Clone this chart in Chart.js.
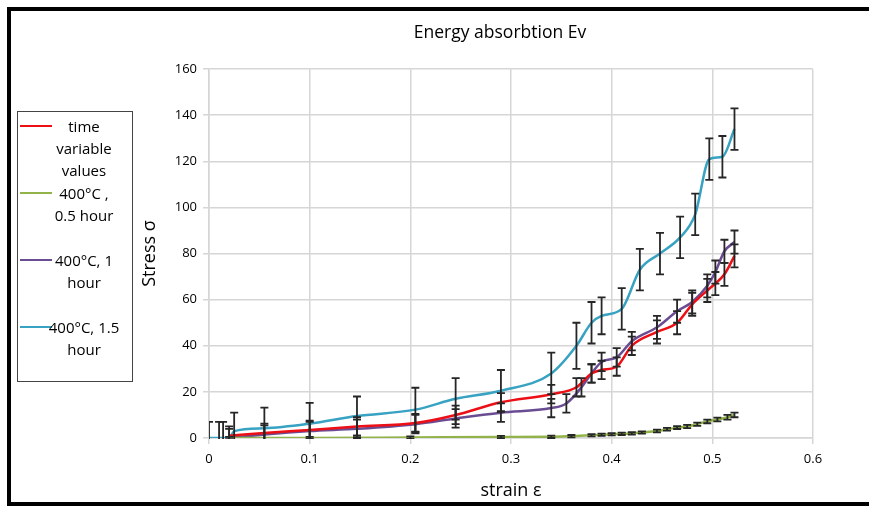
<!DOCTYPE html>
<html>
<head>
<meta charset="utf-8">
<script src="https://cdn.jsdelivr.net/npm/chart.js@4/dist/chart.umd.min.js"></script>
<style>
  html, body { margin: 0; padding: 0; background: #fff; }
  #wrap { position: relative; width: 869px; height: 507px; overflow: hidden; background: #fff; }
  #frame { position: absolute; left: 7px; top: 7px; width: 880px; height: 491px; border: 4px solid #000; box-sizing: content-box; }
  #c { position: absolute; left: 0; top: 0; }
  #legend { position: absolute; left: 17px; top: 111px; width: 116px; height: 271px; border: 1px solid #444;
            font-family: "Open Sans", sans-serif; font-size: 15px; color: #000; box-sizing: border-box; padding-top: 3px; }
  .entry { position: relative; height: 67px; }
  .entry .ln { position: absolute; left: 2px; top: 10px; width: 32px; height: 0; border-top: 2.5px solid; }
  .entry .tx { position: absolute; left: 26px; width: 80px; text-align: center; line-height: 22px; white-space: pre-line; }
</style>
</head>
<body>
<div id="wrap">
  <div id="frame"></div>
  <canvas id="c" width="869" height="507"></canvas>
  <div id="legend"></div>
</div>
<script>
// ---- data ----
const seriesNames = ["time\nvariable\nvalues", "400°C ,\n0.5 hour", "400°C, 1\nhour", "400°C, 1.5\nhour"];

const redX   = [0.02, 0.055, 0.1, 0.147, 0.205, 0.245, 0.29, 0.34, 0.365, 0.38, 0.39, 0.405, 0.42, 0.445, 0.465, 0.48, 0.495, 0.503, 0.512, 0.522];
const redY   = [1, 2.2, 3.5, 5, 6.5, 10, 15.5, 19, 22, 28, 29.5, 31, 40, 46, 50, 58, 64, 67, 71, 79];
const redErr = [4, 4, 4, 4, 4, 4, 4, 4, 4, 4, 4, 4, 4, 5, 5, 5, 5, 5, 5, 5];

const greenX   = [0.02, 0.1, 0.2, 0.29, 0.34, 0.36, 0.38, 0.39, 0.40, 0.41, 0.42, 0.43, 0.445, 0.455, 0.465, 0.475, 0.485, 0.495, 0.505, 0.515, 0.522];
const greenY   = [0, 0, 0.2, 0.4, 0.5, 0.8, 1.2, 1.4, 1.6, 1.8, 2, 2.4, 3, 3.8, 4.5, 5, 6, 7.2, 8, 9, 10];
const greenErr = [0.5, 0.5, 0.5, 0.5, 0.5, 0.5, 0.5, 0.5, 0.5, 0.5, 0.5, 0.5, 0.6, 0.6, 0.6, 0.7, 0.7, 0.8, 0.8, 1, 1];

const purpleX   = [0.02, 0.055, 0.1, 0.147, 0.205, 0.245, 0.29, 0.34, 0.355, 0.37, 0.38, 0.39, 0.405, 0.42, 0.445, 0.465, 0.48, 0.495, 0.503, 0.512, 0.522];
const purpleY   = [0, 1.5, 3, 4, 6, 8.5, 11, 13, 15, 22, 28, 33, 35, 42, 48, 55, 59, 66, 72, 81, 85];
const purpleErr = [4, 4, 4, 4, 4, 4, 4, 4, 4, 4, 4, 4, 4, 4, 5, 5, 5, 5, 5, 5, 5];

const tealX   = [0, 0.01, 0.014, 0.02, 0.025, 0.055, 0.1, 0.147, 0.205, 0.245, 0.29, 0.34, 0.365, 0.38, 0.39, 0.41, 0.428, 0.448, 0.468, 0.483, 0.497, 0.51, 0.522];
const tealY   = [0, 0, 0, 0, 3, 4.2, 6.2, 9.5, 12.3, 17, 20.5, 28, 40, 50, 53, 56, 73, 80, 87, 97, 121, 122, 134];
const tealErr = [7, 7, 7, 0, 8, 9, 9, 8.5, 9.5, 9, 9, 9, 10, 9, 8, 9, 9, 9, 9, 9, 9, 9, 9];

const xTicks = [0, 0.1, 0.2, 0.3, 0.4, 0.5, 0.6];
const yTicks = [0, 20, 40, 60, 80, 100, 120, 140, 160];

const colors = ["#ec0f16", "#92b34a", "#6a4c93", "#37a2c2"];

function pts(xs, ys) { return xs.map((x, i) => ({ x: x, y: ys[i] })); }

const datasets = [
  { label: seriesNames[0], data: pts(redX, redY), errors: redErr, borderColor: colors[0] },
  { label: seriesNames[1], data: pts(greenX, greenY), errors: greenErr, borderColor: colors[1] },
  { label: seriesNames[2], data: pts(purpleX, purpleY), errors: purpleErr, borderColor: colors[2] },
  { label: seriesNames[3], data: pts(tealX, tealY), errors: tealErr, borderColor: colors[3] }
].map(d => Object.assign(d, {
  showLine: true, pointRadius: 0, borderWidth: 2.5, cubicInterpolationMode: 'monotone', fill: false
}));

// Error bars drawn through the chart scales
const errorBars = {
  id: 'errorBars',
  afterDatasetsDraw(chart) {
    const ctx = chart.ctx, xs = chart.scales.x, ys = chart.scales.y, a = chart.chartArea;
    ctx.save();
    ctx.beginPath();
    ctx.rect(a.left, a.top - 1, a.right - a.left, a.bottom - a.top + 2);
    ctx.clip();
    ctx.strokeStyle = '#262626';
    ctx.lineWidth = 1.8;
    chart.data.datasets.forEach(ds => {
      ds.data.forEach((p, i) => {
        const e = ds.errors[i];
        if (!e) return;
        const px = xs.getPixelForValue(p.x);
        const top = ys.getPixelForValue(p.y + e);
        const bot = ys.getPixelForValue(p.y - e);
        ctx.beginPath();
        ctx.moveTo(px, top); ctx.lineTo(px, bot);
        ctx.moveTo(px - 4, top); ctx.lineTo(px + 4, top);
        ctx.moveTo(px - 4, bot); ctx.lineTo(px + 4, bot);
        ctx.stroke();
      });
    });
    ctx.restore();
  }
};

// Title box spans the plot area, nudged slightly left as in the reference
const titleShift = {
  id: 'titleShift',
  afterLayout(chart) {
    if (chart.titleBlock) { chart.titleBlock.left = chart.chartArea.left - 22; chart.titleBlock.right = chart.chartArea.right; }
  }
};

const gridColor = '#d6d6d6';
const fontFam = '"Open Sans", sans-serif';

new Chart(document.getElementById('c'), {
  type: 'scatter',
  data: { datasets: datasets },
  options: {
    responsive: false,
    animation: false,
    devicePixelRatio: 1,
    layout: { padding: { left: 136, right: 56, top: 20, bottom: 5 } },
    plugins: {
      legend: { display: false },
      tooltip: { enabled: false },
      title: {
        display: true,
        fullSize: false,
        text: 'Energy absorbtion Ev',
        color: '#000',
        font: { family: fontFam, size: 17.5, weight: 'normal', lineHeight: 1.15 },
        padding: { top: 3, bottom: 26 }
      }
    },
    scales: {
      x: {
        type: 'linear', min: 0, max: 0.6,
        afterBuildTicks(s) { s.ticks = xTicks.map(v => ({ value: v })); },
        afterFit(s) { s.height = 64; },
        grid: { color: gridColor, lineWidth: 1.5, tickLength: 6 },
        border: { color: gridColor, width: 1.5 },
        ticks: { color: '#000', padding: 7, font: { family: fontFam, size: 13 }, maxRotation: 0,
                 callback: v => String(Math.round(v * 10) / 10) },
        title: { display: true, text: 'strain ε', color: '#000', padding: 0,
                 font: { family: fontFam, size: 18, lineHeight: 1.2 } }
      },
      y: {
        type: 'linear', min: 0, max: 160,
        afterBuildTicks(s) { s.ticks = yTicks.map(v => ({ value: v })); },
        afterFit(s) { s.width = 73; },
        grid: { color: gridColor, lineWidth: 1.5, tickLength: 6 },
        border: { color: gridColor, width: 1.5 },
        ticks: { color: '#000', padding: 6, font: { family: fontFam, size: 13 } },
        title: { display: true, text: 'Stress σ', color: '#000', padding: 3,
                 font: { family: fontFam, size: 18, lineHeight: 1.2 } }
      }
    }
  },
  plugins: [errorBars, titleShift]
});

// HTML legend built from the datasets
const leg = document.getElementById('legend');
datasets.forEach(ds => {
  const e = document.createElement('div'); e.className = 'entry';
  const l = document.createElement('div'); l.className = 'ln'; l.style.borderTopColor = ds.borderColor;
  const t = document.createElement('div'); t.className = 'tx'; t.textContent = ds.label;
  e.appendChild(l); e.appendChild(t); leg.appendChild(e);
});
</script>
</body>
</html>
